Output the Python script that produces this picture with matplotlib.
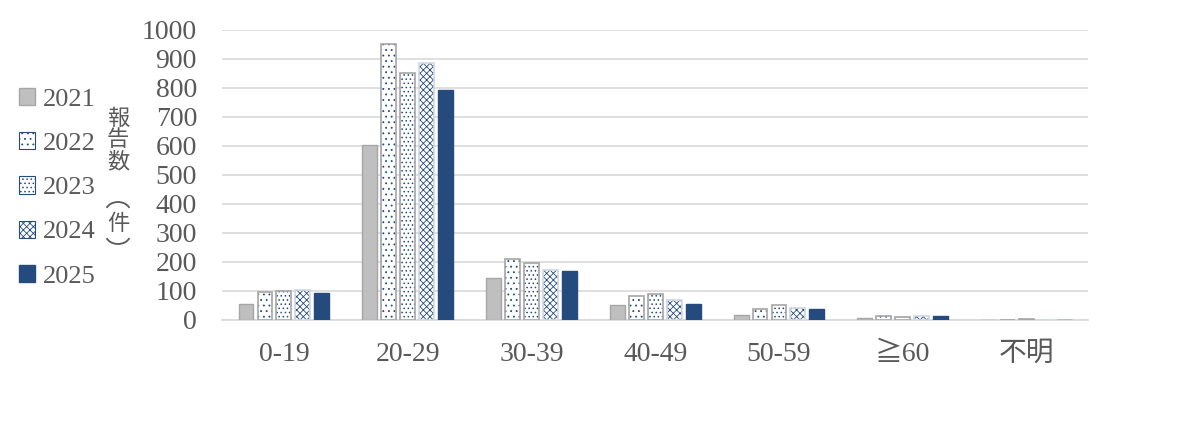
import matplotlib
matplotlib.use("Agg")
import matplotlib.pyplot as plt
import numpy as np
from matplotlib.patches import Patch, Arc

plt.rcParams['font.family'] = ['Liberation Serif', 'Noto Sans CJK JP', 'DejaVu Sans']
plt.rcParams['hatch.linewidth'] = 0.6

# age groups and yearly report counts
categories = ["0-19", "20-29", "30-39", "40-49", "50-59", "≧60", "不明"]
years = ["2021", "2022", "2023", "2024", "2025"]
v2021 = [55, 603, 144, 51, 17, 8, 0]
v2022 = [96, 950, 209, 82, 37, 13, 1]
v2023 = [100, 851, 195, 90, 50, 10, 3]
v2024 = [103, 885, 172, 69, 42, 15, 0]
v2025 = [94, 793, 170, 55, 37, 15, 0]
yticks = list(range(0, 1001, 100))

series = [v2021, v2022, v2023, v2024, v2025]
navy = "#254a7d"
grey_edge = "#a6a6a6"
styles = [
    dict(face="#bfbfbf", hatch=None, hcol=None, edge=grey_edge),
    dict(face="white", hatch="...", hcol=navy, edge=grey_edge),
    dict(face="white", hatch="....", hcol=navy, edge=grey_edge),
    dict(face="white", hatch="xxxxx", hcol=navy, edge="#d0d8e4"),
    dict(face=navy, hatch=None, hcol=None, edge=navy),
]
text_col = "#595959"

W, H = 1200, 434
fig = plt.figure(figsize=(W / 100, H / 100), dpi=100)
ax = fig.add_axes([0.185, 0.263, 0.722, 0.668])

x = np.arange(len(categories))
pitch = 0.153
width = 0.12
handles = []
for i, (vals, st) in enumerate(zip(series, styles)):
    pos = x + (i - 2) * pitch
    if st["hatch"]:
        ax.bar(pos, vals, width, color=st["face"], hatch=st["hatch"],
               edgecolor=st["hcol"], linewidth=0, zorder=3)
        ax.bar(pos, vals, width, fill=False, edgecolor=st["edge"],
               linewidth=1.2, zorder=4)
        h = Patch(facecolor=st["face"], hatch=st["hatch"], edgecolor=st["hcol"],
                  linewidth=0.8)
    else:
        ax.bar(pos, vals, width, color=st["face"], edgecolor=st["edge"],
               linewidth=1.0, zorder=3)
        h = Patch(facecolor=st["face"], edgecolor=st["edge"])
    handles.append(h)

ax.set_ylim(0, 1000)
ax.set_xlim(-0.5, len(categories) - 0.5)
ax.set_yticks(yticks)
ax.set_xticks(x)
ax.set_xticklabels(categories)
ax.yaxis.grid(True, color="#d9d9d9", linewidth=1.2, zorder=0)
ax.set_axisbelow(True)
for s in ["top", "right", "left"]:
    ax.spines[s].set_visible(False)
ax.spines["bottom"].set_color("#d9d9d9")
ax.spines["bottom"].set_linewidth(1.2)
ax.tick_params(axis="both", length=0, labelsize=20, colors=text_col)
ax.tick_params(axis="x", pad=16)
ax.tick_params(axis="y", pad=18)

# vertical y-axis title, one glyph per row
ylab = [("報", 118), ("告", 140), ("数", 162), ("件", 224)]
for ch, py in ylab:
    fig.text(118 / W, 1 - py / H, ch, fontsize=16, color=text_col,
             ha="center", va="center", family=['Noto Sans CJK JP'])
# sideways brackets round 件 (in inches from the bottom-left corner)
fig.add_artist(Arc((1.18, (H - 212) / 100), 0.25, 0.2, theta1=20, theta2=160,
                   transform=fig.dpi_scale_trans, color=text_col, linewidth=1.3))
fig.add_artist(Arc((1.18, (H - 234) / 100), 0.25, 0.2, theta1=200, theta2=340,
                   transform=fig.dpi_scale_trans, color=text_col, linewidth=1.3))

fig.legend(handles, years, loc="upper left", bbox_to_anchor=(-0.004, 0.852),
           frameon=False, fontsize=19, labelspacing=0.81, handlelength=0.62,
           handleheight=0.62, handletextpad=0.3, labelcolor=text_col)

fig.savefig("out.png", dpi=100)
